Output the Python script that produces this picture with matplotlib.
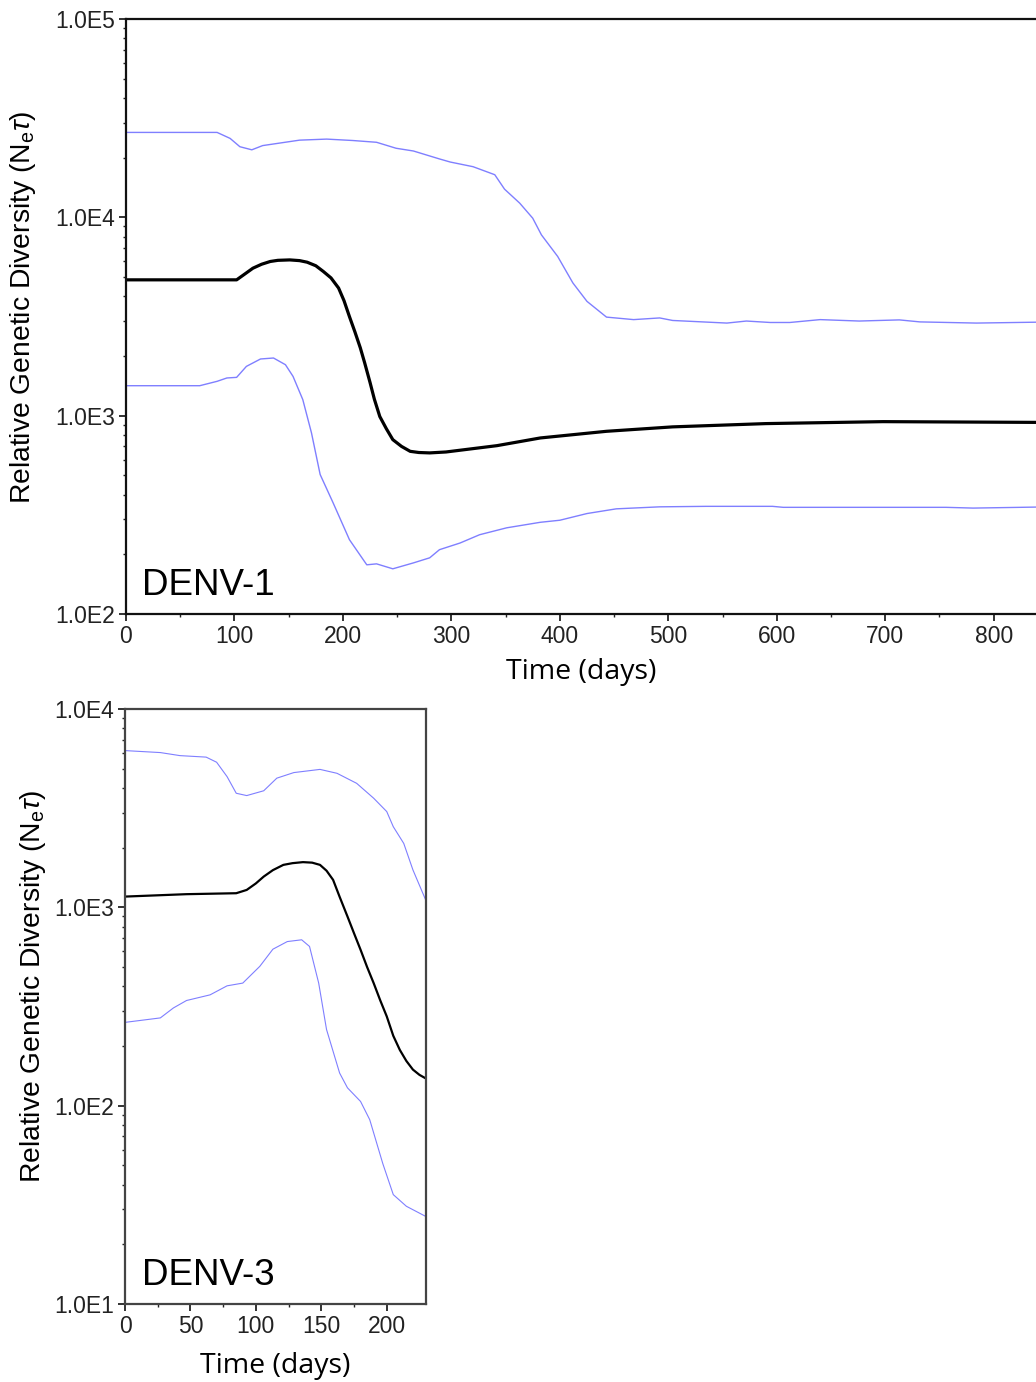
import numpy as np
import matplotlib
matplotlib.use("Agg")
import matplotlib.pyplot as plt
from matplotlib.ticker import FixedLocator, FuncFormatter, NullFormatter, LogLocator

plt.rcParams['font.family'] = ['Liberation Sans', 'DejaVu Sans']
plt.rcParams['mathtext.fontset'] = 'custom'
plt.rcParams['mathtext.rm'] = 'Liberation Sans'
plt.rcParams['mathtext.it'] = 'Liberation Sans:italic'

# DENV-1 (days, relative genetic diversity)
d1_up_t = [0, 84, 96, 105, 116, 126, 160, 185, 209, 231, 249, 265, 289, 299, 320, 340,
           349, 363, 375, 383, 398, 412, 425, 443, 468, 492, 504, 554, 572, 594, 612,
           640, 676, 713, 732, 784, 839]
d1_up_v = [26800, 26800, 25000, 22700, 21900, 23000, 24500, 24800, 24400, 23900, 22300,
           21600, 19700, 19000, 18000, 16400, 13870, 11790, 9900, 8160, 6350, 4670, 3770,
           3140, 3050, 3110, 3020, 2930, 3000, 2950, 2950, 3050, 3000, 3040, 2970, 2930, 2960]

d1_med_t = [0, 102, 110, 117, 125, 133, 140, 151, 160, 167, 175, 182, 189, 196, 201, 206,
            211, 216, 220, 225, 229, 234, 240, 246, 254, 262, 270, 280, 295, 342, 382,
            443, 504, 590, 698, 839]
d1_med_v = [4840, 4840, 5200, 5540, 5800, 5990, 6070, 6100, 6050, 5940, 5700, 5330, 4950,
            4400, 3800, 3160, 2650, 2200, 1850, 1470, 1210, 990, 860, 757, 700, 661, 652,
            649, 656, 706, 772, 834, 878, 912, 933, 925]

d1_lo_t = [0, 68, 84, 93, 102, 111, 124, 136, 147, 154, 163, 171, 179, 191, 206, 222,
           231, 246, 265, 280, 289, 308, 326, 351, 382, 400, 425, 452, 492, 535, 596,
           606, 756, 781, 839]
d1_lo_v = [1416, 1416, 1490, 1549, 1560, 1772, 1931, 1953, 1807, 1578, 1205, 819, 505,
           363, 237, 177, 179, 169, 181, 192, 211, 228, 251, 272, 290, 297, 321, 339,
           347, 349, 349, 345, 345, 342, 346]

# DENV-3
d3_up_t = [0, 27, 42, 62, 70, 78, 85, 93, 106, 116, 129, 149, 162, 177, 190, 200, 205,
           213, 220, 230]
d3_up_v = [6170, 6030, 5820, 5720, 5390, 4560, 3760, 3660, 3870, 4480, 4780, 4960, 4740,
           4220, 3550, 3040, 2550, 2100, 1545, 1080]

d3_med_t = [0, 47, 85, 93, 100, 106, 113, 121, 128, 136, 143, 149, 154, 159, 164, 170,
            175, 180, 185, 190, 195, 200, 205, 210, 215, 220, 225, 230]
d3_med_v = [1133, 1165, 1178, 1224, 1320, 1429, 1540, 1637, 1670, 1690, 1680, 1637, 1530,
            1376, 1130, 899, 740, 611, 500, 415, 340, 282, 225, 191, 168, 152, 143, 137]

d3_lo_t = [0, 27, 37, 47, 65, 78, 90, 103, 113, 124, 135, 141, 148, 154, 164, 170, 180,
           187, 197, 205, 215, 230]
d3_lo_v = [263, 277, 311, 339, 362, 402, 415, 504, 615, 672, 686, 635, 415, 242, 146, 123,
           105, 85, 51, 35.6, 31.1, 27.6]

W, H = 1036, 1382
fig = plt.figure(figsize=(W / 100, H / 100), dpi=100)

blue = '#7f7fff'
ylab = r'Relative Genetic Diversity (N$_{\mathrm{e}}$$\tau$)'


def fmt_e(v, pos):
    e = int(round(np.log10(v)))
    return "1.0E%d" % e


def style(ax, ymin, ymax, xmaj, xmin_step, spine_col):
    ax.set_yscale('log')
    ax.set_ylim(ymin, ymax)
    ax.yaxis.set_major_locator(LogLocator(base=10))
    ax.yaxis.set_minor_locator(LogLocator(base=10, subs=np.arange(2, 10)))
    ax.yaxis.set_major_formatter(FuncFormatter(fmt_e))
    ax.yaxis.set_minor_formatter(NullFormatter())
    ax.xaxis.set_major_locator(FixedLocator(xmaj))
    ax.xaxis.set_minor_locator(FixedLocator(np.arange(0, xmaj[-1] + xmin_step, xmin_step)))
    ax.tick_params(which='major', direction='out', length=5, width=1.3, labelsize=16.5,
                   pad=3, colors='#222222', labelcolor='#222222')
    ax.tick_params(which='minor', direction='out', length=2.5, width=1.0, colors='#222222')
    for s in ax.spines.values():
        s.set_color(spine_col)
        s.set_linewidth(1.6)


# top panel
ax1 = fig.add_axes([126 / W, 1 - 614 / H, 1 - 126 / W, (614 - 19) / H])
ax1.plot(d1_up_t, d1_up_v, color=blue, lw=1.0)
ax1.plot(d1_lo_t, d1_lo_v, color=blue, lw=1.0)
ax1.plot(d1_med_t, d1_med_v, color='black', lw=2.3)
style(ax1, 100, 1e5, [0, 100, 200, 300, 400, 500, 600, 700, 800], 50, '#111111')
ax1.set_xlim(0, 839)
ax1.spines['right'].set_visible(False)
ax1.set_xlabel('Time (days)', family='Open Sans', fontsize=20.5, labelpad=7)
ax1.set_ylabel(ylab, fontsize=20.3)
ax1.yaxis.set_label_coords(-(126 - 38) / 910, (614 - 307) / 595)
fig.text(142 / W, 1 - 595 / H, 'DENV-1', fontsize=26.5, va='baseline', ha='left')

# bottom panel
ax2 = fig.add_axes([125 / W, 1 - 1304 / H, (426 - 125) / W, (1304 - 709) / H])
ax2.plot(d3_up_t, d3_up_v, color=blue, lw=0.8)
ax2.plot(d3_lo_t, d3_lo_v, color=blue, lw=0.8)
ax2.plot(d3_med_t, d3_med_v, color='black', lw=1.6)
style(ax2, 10, 1e4, [0, 50, 100, 150, 200], 25, '#444444')
ax2.set_xlabel('Time (days)', family='Open Sans', fontsize=20.5, labelpad=10)
ax2.set_xlim(0, 230)
ax2.set_ylabel(ylab, fontsize=20.3)
ax2.yaxis.set_label_coords(-(125 - 48) / 301, (1304 - 986) / 595)
fig.text(142 / W, 1 - 1285 / H, 'DENV-3', fontsize=26.5, va='baseline', ha='left')

fig.savefig('out.png', dpi=100)
